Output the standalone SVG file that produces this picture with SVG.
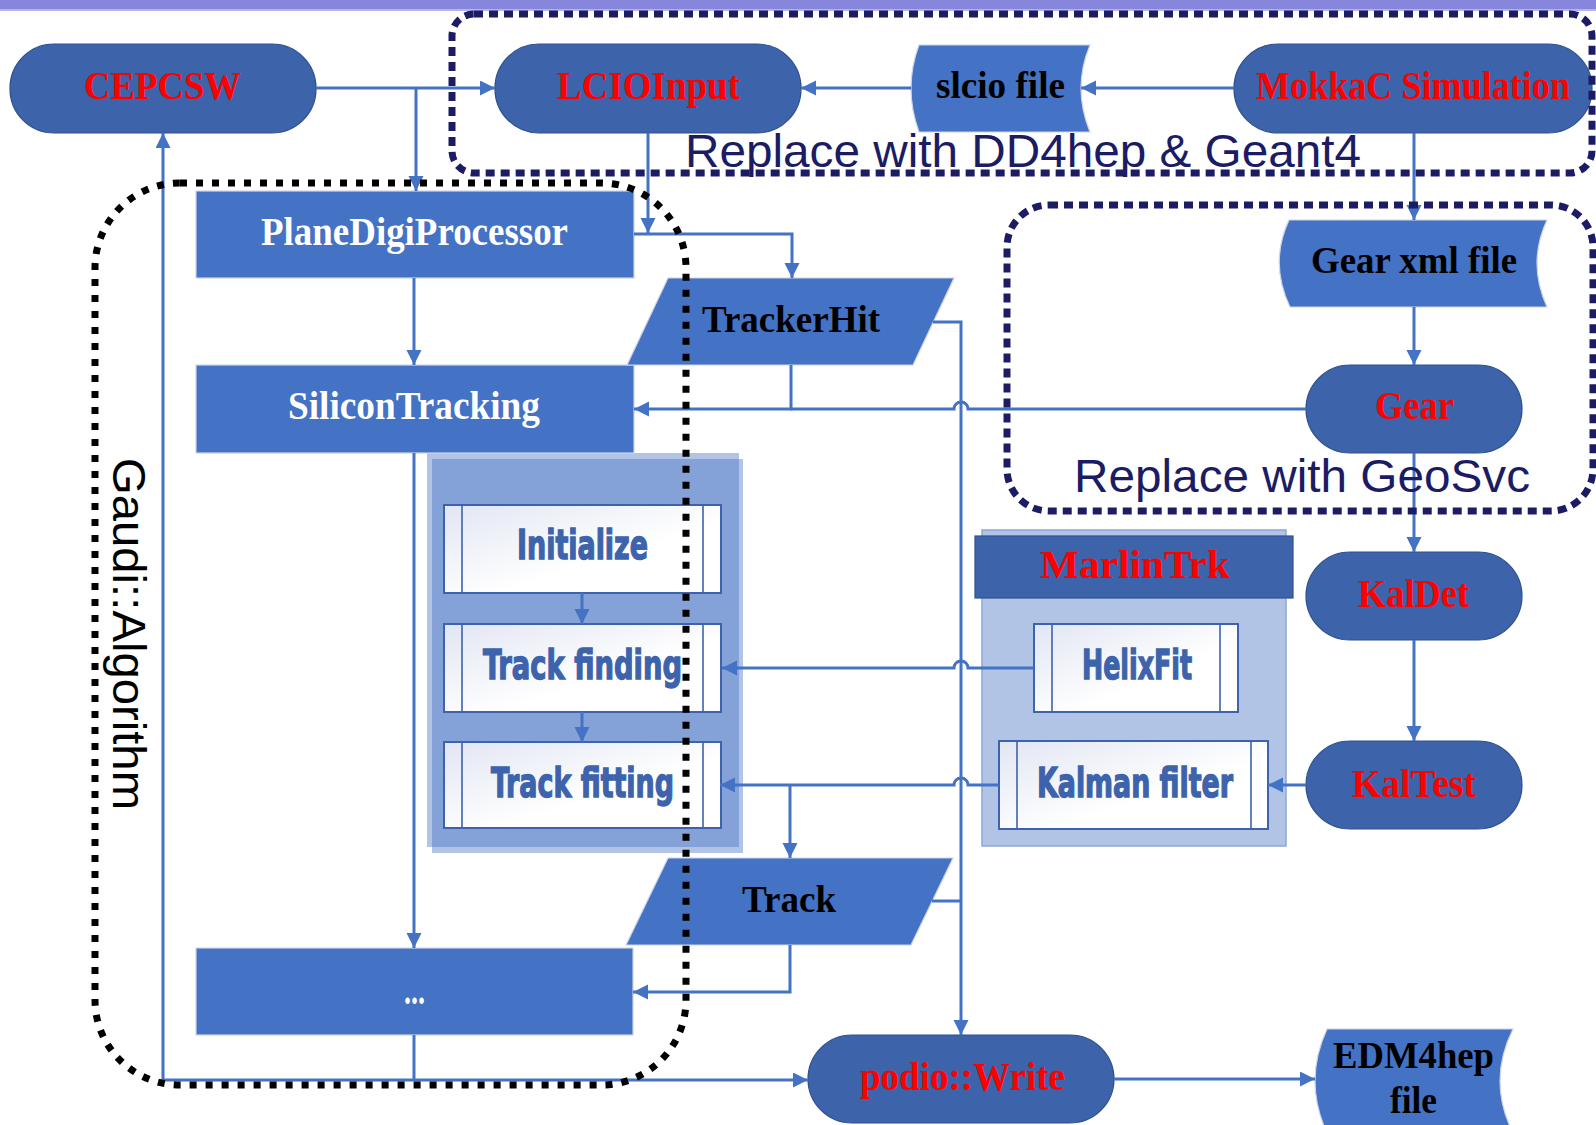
<svg xmlns="http://www.w3.org/2000/svg" width="1596" height="1125" viewBox="0 0 1596 1125">
<defs>
<style>
.pill{fill:#3D63AB;stroke:#2F528F;stroke-width:1.2}
.box{fill:#4472C4;stroke:#CDD4E8;stroke-width:1.2}
.sub{fill:url(#gr);stroke:#3C63AB;stroke-width:2}
.subl{stroke:#3C63AB;stroke-width:1.6}
.cont{fill:#4472C4;fill-opacity:0.42}
.ser{font-family:"Liberation Serif","Times New Roman",serif;font-weight:bold}
.red{fill:#FF0000;font-size:40px}
.blk{fill:#000000;font-size:37px}
.wht{fill:#FFFFFF;font-size:40px}
.imp{font-family:"Liberation Sans Narrow","DejaVu Sans Condensed","Liberation Sans",sans-serif;font-weight:bold;fill:#3C63AB;stroke:#3C63AB;stroke-width:1.3;font-size:40px}
.note{font-family:"Liberation Sans",Arial,sans-serif;fill:#1C1C64}
.con{fill:none;stroke:#4472C4;stroke-width:3}
.arr{marker-end:url(#ah)}
.nav{fill:none;stroke:#1C1C64;stroke-width:7;stroke-dasharray:9 6}
.blkf{fill:none;stroke:#000;stroke-width:7;stroke-dasharray:7 9}
</style>
<linearGradient id="gr" x1="0" y1="0" x2="1" y2="1">
<stop offset="0" stop-color="#E2E6F3"/>
<stop offset="0.6" stop-color="#FFFFFF"/>
</linearGradient>
<marker id="ah" markerUnits="userSpaceOnUse" markerWidth="16" markerHeight="16" refX="15" refY="7.5" orient="auto">
<path d="M0,0 L15,7.5 L0,15 Z" fill="#4472C4"/>
</marker>
</defs>
<rect x="0" y="0" width="1596" height="1125" fill="#FFFFFF"/>
<g id="top-band">
<rect x="0" y="0" width="1596" height="9" fill="#8686DC"/>
<rect x="0" y="9" width="1596" height="2" fill="#B5B5EA"/>
</g>

<g id="containers">
<g id="algo-steps-container">
<rect class="cont" x="427" y="453" width="312" height="394"/>
<rect class="cont" x="432" y="459" width="311" height="394"/>
</g>
<g id="marlintrk">
<rect x="982" y="530" width="304" height="316" fill="#4472C4" fill-opacity="0.42" stroke="#8EA7D6" stroke-width="1.5"/>
<rect x="975" y="536" width="318" height="62" fill="#3D63AB" stroke="#2F528F" stroke-width="1.2"/>
<text class="ser red" x="1040" y="578" textLength="190" lengthAdjust="spacingAndGlyphs">MarlinTrk</text>
</g>
</g>

<g id="nodes">
<g id="cepcsw"><rect class="pill" x="10" y="44" width="306" height="89" rx="44" ry="44"/><text class="ser red" x="84" y="99" textLength="157" lengthAdjust="spacingAndGlyphs">CEPCSW</text></g>
<g id="lcioinput"><rect class="pill" x="495" y="44" width="306" height="89" rx="44" ry="44"/><text class="ser red" x="557" y="99" textLength="183" lengthAdjust="spacingAndGlyphs">LCIOInput</text></g>
<g id="slcio-file"><path class="box" d="M919 45 H1090 Q1072 88 1090 132 H919 Q903 88 919 45 Z"/><text class="ser blk" x="936" y="98" textLength="129" lengthAdjust="spacingAndGlyphs">slcio file</text></g>
<g id="mokkac"><rect class="pill" x="1234" y="44" width="358" height="89" rx="44" ry="44"/><text class="ser red" x="1256" y="99" textLength="314" lengthAdjust="spacingAndGlyphs">MokkaC Simulation</text></g>
<g id="gear-xml"><path class="box" d="M1289 220 H1547 Q1527 263 1547 307 H1290 Q1269 263 1289 220 Z"/><text class="ser blk" x="1311" y="273" textLength="206" lengthAdjust="spacingAndGlyphs">Gear xml file</text></g>
<g id="gear"><rect class="pill" x="1306" y="365" width="216" height="88" rx="44" ry="44"/><text class="ser red" x="1375" y="419" textLength="79" lengthAdjust="spacingAndGlyphs">Gear</text></g>
<g id="kaldet"><rect class="pill" x="1306" y="552" width="216" height="88" rx="44" ry="44"/><text class="ser red" x="1358" y="607" textLength="111" lengthAdjust="spacingAndGlyphs">KalDet</text></g>
<g id="kaltest"><rect class="pill" x="1306" y="741" width="216" height="88" rx="44" ry="44"/><text class="ser red" x="1352" y="797" textLength="124" lengthAdjust="spacingAndGlyphs">KalTest</text></g>
<g id="planedigi"><rect class="box" x="196" y="191" width="438" height="87"/><text class="ser wht" x="261" y="245" textLength="307" lengthAdjust="spacingAndGlyphs">PlaneDigiProcessor</text></g>
<g id="silicontracking"><rect class="box" x="196" y="365" width="438" height="88"/><text class="ser wht" x="288" y="419" textLength="252" lengthAdjust="spacingAndGlyphs">SiliconTracking</text></g>
<g id="etc"><rect class="box" x="196" y="948" width="437" height="87"/><text class="ser wht" x="404" y="1004" font-size="30" textLength="21" lengthAdjust="spacingAndGlyphs">...</text></g>
<g id="trackerhit"><polygon class="box" points="668,278 954,278 913,365 627,365"/><text class="ser blk" x="702" y="332" textLength="178" lengthAdjust="spacingAndGlyphs">TrackerHit</text></g>
<g id="track"><polygon class="box" points="668,858 953,858 911,945 626,945"/><text class="ser blk" x="742" y="912" textLength="94" lengthAdjust="spacingAndGlyphs">Track</text></g>
<g id="podio-write"><rect class="pill" x="808" y="1035" width="306" height="88" rx="44" ry="44"/><text class="ser red" x="860" y="1090" textLength="205" lengthAdjust="spacingAndGlyphs">podio::Write</text></g>
<g id="edm4hep-file"><path class="box" d="M1327 1029 H1513 Q1487 1081 1513 1133 H1327 Q1303 1081 1327 1029 Z"/><text class="ser blk" x="1333" y="1068" textLength="161" lengthAdjust="spacingAndGlyphs">EDM4hep</text><text class="ser blk" x="1390" y="1113" textLength="47" lengthAdjust="spacingAndGlyphs">file</text></g>
<g id="initialize"><rect class="sub" x="444" y="505" width="277" height="88"/><line class="subl" x1="462" y1="505" x2="462" y2="593"/><line class="subl" x1="703" y1="505" x2="703" y2="593"/><text class="imp" x="517" y="559" textLength="131" lengthAdjust="spacingAndGlyphs">Initialize</text></g>
<g id="track-finding"><rect class="sub" x="444" y="624" width="277" height="88"/><line class="subl" x1="462" y1="624" x2="462" y2="712"/><line class="subl" x1="703" y1="624" x2="703" y2="712"/><text class="imp" x="483" y="679" textLength="199" lengthAdjust="spacingAndGlyphs">Track finding</text></g>
<g id="track-fitting"><rect class="sub" x="444" y="742" width="277" height="86"/><line class="subl" x1="462" y1="742" x2="462" y2="828"/><line class="subl" x1="703" y1="742" x2="703" y2="828"/><text class="imp" x="491" y="797" textLength="183" lengthAdjust="spacingAndGlyphs">Track fitting</text></g>
<g id="helixfit"><rect class="sub" x="1034" y="624" width="204" height="88"/><line class="subl" x1="1052" y1="624" x2="1052" y2="712"/><line class="subl" x1="1220" y1="624" x2="1220" y2="712"/><text class="imp" x="1082" y="679" textLength="110" lengthAdjust="spacingAndGlyphs">HelixFit</text></g>
<g id="kalman-filter"><rect class="sub" x="999" y="741" width="269" height="88"/><line class="subl" x1="1017" y1="741" x2="1017" y2="829"/><line class="subl" x1="1251" y1="741" x2="1251" y2="829"/><text class="imp" x="1037" y="797" textLength="196" lengthAdjust="spacingAndGlyphs">Kalman filter</text></g>
</g>

<g id="connectors">
<path class="con arr" d="M316 88 H495"/>
<path class="con arr" d="M416 88 V191"/>
<path class="con arr" d="M648 133 V233"/>
<path class="con arr" d="M634 234 H792 V278"/>
<path class="con arr" d="M414 278 V365"/>
<path class="con arr" d="M791 365 V409 H634"/>
<path class="con" d="M1306 409 H968 a7 7 0 0 0 -14 0 H791"/>
<path class="con arr" d="M933 322 H961 V1035"/>
<path class="con arr" d="M1234 88 H1081"/>
<path class="con arr" d="M911 88 H801"/>
<path class="con arr" d="M1414 133 V220"/>
<path class="con arr" d="M1414 307 V365"/>
<path class="con arr" d="M1414 453 V552"/>
<path class="con arr" d="M1414 640 V741"/>
<path class="con arr" d="M1306 785 H1268"/>
<path class="con arr" d="M1034 668 H968 a7 7 0 0 0 -14 0 H722"/>
<path class="con arr" d="M999 785 H968 a7 7 0 0 0 -14 0 H720"/>
<path class="con arr" d="M790 785 V858"/>
<path class="con arr" d="M582 593 V624"/>
<path class="con arr" d="M582 712 V742"/>
<path class="con arr" d="M414 453 V948"/>
<path class="con arr" d="M790 945 V992 H633"/>
<path class="con" d="M932 901 H961"/>
<path class="con" d="M414 1035 V1080"/>
<path class="con arr" d="M163 1080 H808"/>
<path class="con arr" d="M163 1080 V133"/>
<path class="con arr" d="M1114 1079 H1315"/>
</g>

<g id="frames">
<g id="sim-frame"><rect class="nav" x="452" y="14" width="1140" height="159" rx="22" ry="22"/><text class="note" x="685" y="167" font-size="46" textLength="676" lengthAdjust="spacingAndGlyphs">Replace with DD4hep &amp; Geant4</text></g>
<g id="geo-frame"><rect class="nav" x="1007" y="205" width="586" height="306" rx="42" ry="42"/><text class="note" x="1074" y="492" font-size="46" textLength="456" lengthAdjust="spacingAndGlyphs">Replace with GeoSvc</text></g>
<g id="gaudi-frame"><rect class="blkf" x="95" y="183" width="591" height="902" rx="85" ry="85"/><text font-family="Liberation Sans, Arial, sans-serif" font-size="47" fill="#000" transform="translate(113,458) rotate(90)" x="0" y="0" textLength="352" lengthAdjust="spacingAndGlyphs">Gaudi::Algorithm</text></g>
</g>
</svg>
